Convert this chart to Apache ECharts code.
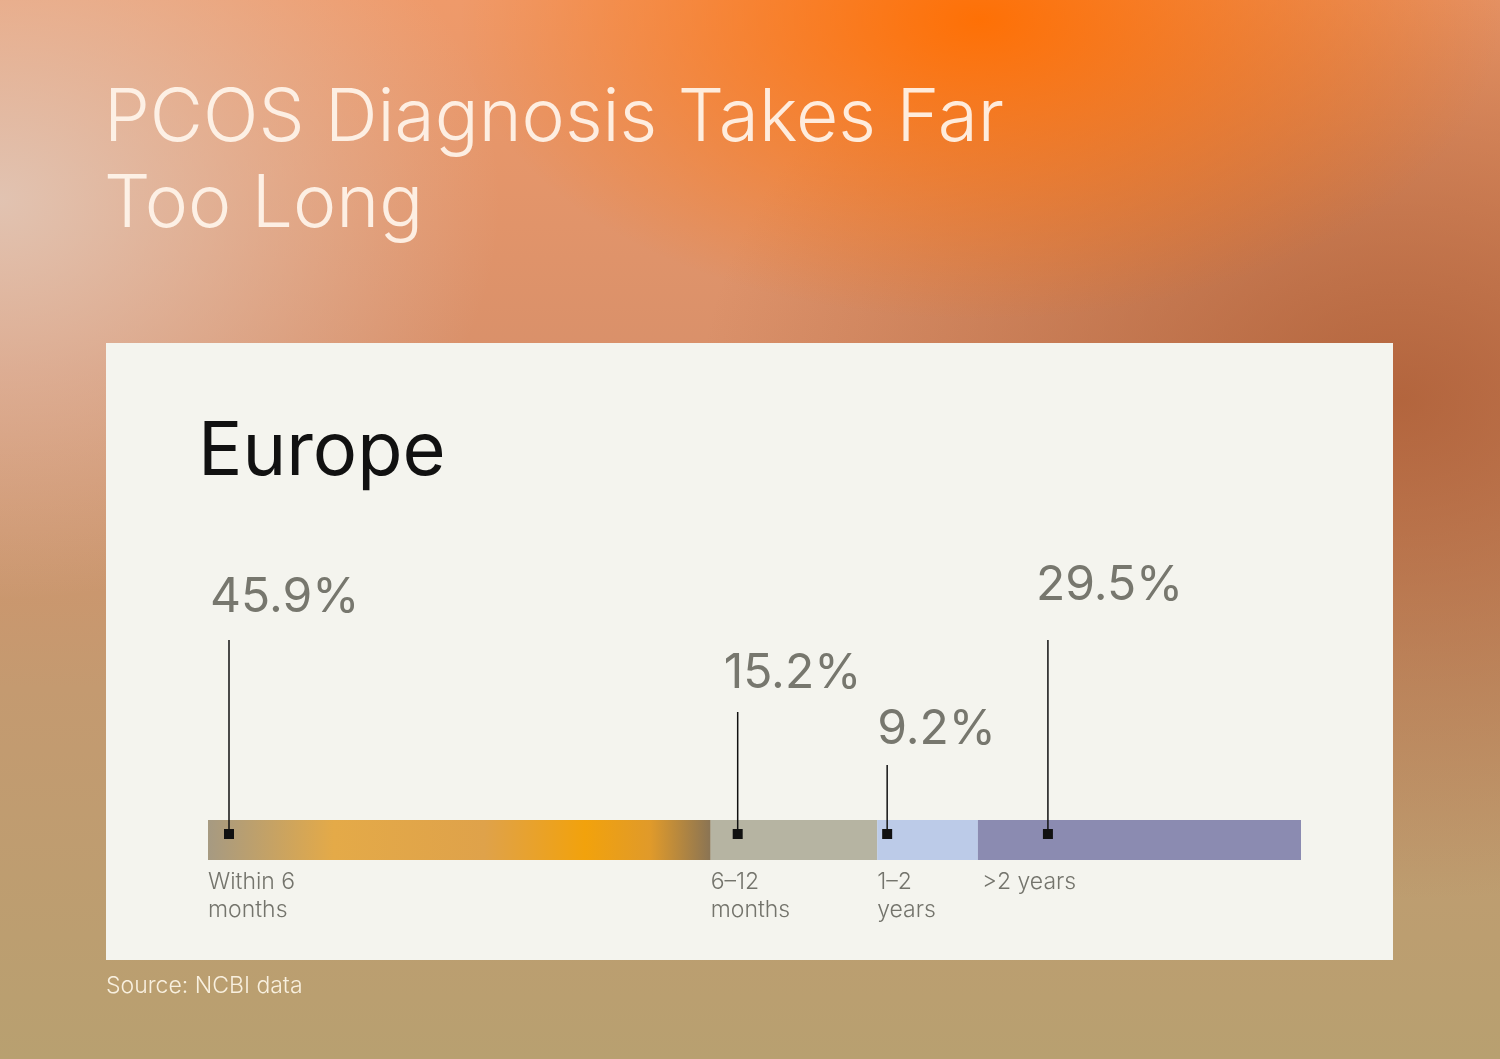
<!DOCTYPE html>
<html>
<head>
<meta charset="utf-8">
<script src="https://cdn.jsdelivr.net/npm/echarts@6/dist/echarts.min.js"></script>
<style>
  html, body { margin: 0; padding: 0; }
  body {
    width: 1500px; height: 1059px; overflow: hidden;
    background:
      radial-gradient(ellipse 520px 300px at 980px 20px, rgba(255,110,0,0.95), rgba(255,110,0,0) 100%),
      radial-gradient(ellipse 700px 500px at 1400px 400px, rgba(170,90,50,0.8), rgba(170,90,50,0) 100%),
      radial-gradient(ellipse 500px 400px at 0px 200px, rgba(225,200,185,0.9), rgba(225,200,185,0) 100%),
      linear-gradient(180deg, #ef9a6a 0%, #d8906a 35%, #c49a70 65%, #b8a070 100%);
  }
  #chart { width: 1500px; height: 1059px; }
</style>
</head>
<body>
<div id="chart"></div>
<script>
const categories = ['Within 6\nmonths', '6–12\nmonths', '1–2\nyears', '>2 years'];
const values = [45.9, 15.2, 9.2, 29.5];
const valueLabels = ['45.9%', '15.2%', '9.2%', '29.5%'];

const segColors = [
  new echarts.graphic.LinearGradient(0, 0, 1, 0, [
    { offset: 0, color: '#a69a82' },
    { offset: 0.25, color: '#e4aa48' },
    { offset: 0.55, color: '#dfa24a' },
    { offset: 0.75, color: '#f2a20c' },
    { offset: 0.88, color: '#e09a2a' },
    { offset: 1, color: '#8a7454' }
  ]),
  '#b6b4a2', '#bccbe8', '#8b8bb1'
];
// label layout (pixels): top of percentage text, top of leader line, marker offset
const labelTop = [574, 650, 706, 562];
const lineTop = [640, 712, 765, 640];
const labelDx = [2, 13, 0, 58];
const markDx = [21, 27, 10, 70];

const chart = echarts.init(document.getElementById('chart'));
const total = values.reduce((a, b) => a + b, 0);

chart.setOption({
  backgroundColor: 'transparent',
  grid: { left: 208, right: 199, top: 820, height: 40 },
  xAxis: { type: 'value', min: 0, max: total, show: false },
  yAxis: { type: 'category', data: ['Europe'], show: false },
  series: values.map((v, i) => ({
    type: 'bar', stack: 'all', barWidth: 40, data: [v],
    itemStyle: { color: segColors[i] }, silent: true
  })),
  graphic: [
    { type: 'rect', shape: { x: 106, y: 343, width: 1287, height: 617 }, style: { fill: '#f4f4ee' }, z: -10 },
    { type: 'text', left: 104, top: 76, style: { text: 'PCOS Diagnosis Takes Far\nToo Long', fill: 'rgba(255,245,235,0.92)', font: '300 73px Inter', lineHeight: 86 } },
    { type: 'text', left: 198, top: 416, style: { text: 'Europe', fill: '#111', font: '400 74px Inter' } },
    { type: 'text', left: 106, top: 975, style: { text: 'Source: NCBI data', fill: 'rgba(255,248,235,0.9)', font: '300 23px Inter' } }
  ]
});

const extra = [];
let cum = 0;
values.forEach((v, i) => {
  const x0 = chart.convertToPixel({ gridIndex: 0 }, [cum, 0])[0];
  const mx = x0 + markDx[i];
  extra.push(
    { type: 'line', shape: { x1: mx, y1: lineTop[i], x2: mx, y2: 834 }, style: { stroke: '#111', lineWidth: 1.5 }, z: 50 },
    { type: 'rect', shape: { x: mx - 5, y: 829, width: 10, height: 10 }, style: { fill: '#111' }, z: 51 },
    { type: 'text', left: x0 + labelDx[i], top: labelTop[i], style: { text: valueLabels[i], fill: '#77776e', font: '400 48px Inter' }, z: 50 },
    { type: 'text', left: x0 + (i === 3 ? 4 : 0), top: 868, style: { text: categories[i], fill: '#74746c', font: '300 23px Inter', lineHeight: 28 }, z: 50 }
  );
  cum += v;
});
const opt = chart.getOption();
chart.setOption({ graphic: opt.graphic[0].elements.concat(extra) });
</script>
</body>
</html>
